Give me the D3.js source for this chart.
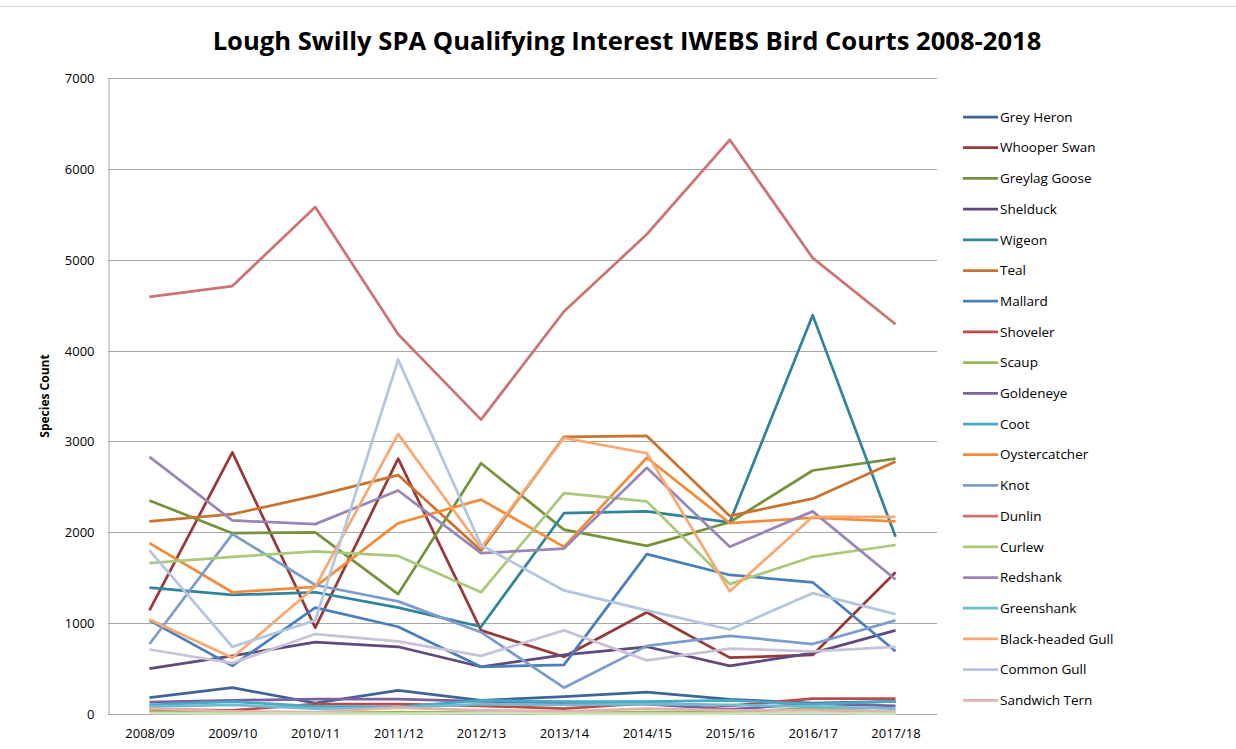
<!DOCTYPE html>
<html>
<head>
<meta charset="utf-8">
<script src="https://cdn.jsdelivr.net/npm/d3@7"></script>
<style>
  body { margin: 0; background: #fff; }
  text { font-family: "Open Sans", "Liberation Sans", sans-serif; fill: #000; }
</style>
</head>
<body>
<div class="chart"></div>
<script>
var seasons = ["2008/09", "2009/10", "2010/11", "2011/12", "2012/13", "2013/14", "2014/15", "2015/16", "2016/17", "2017/18"];
var yTicks = [0, 1000, 2000, 3000, 4000, 5000, 6000, 7000];

var greyHeron = [180, 290, 120, 260, 150, 190, 240, 160, 120, 140];
var whooperSwan = [1140, 2880, 950, 2810, 920, 630, 1120, 620, 650, 1560];
var greylagGoose = [2350, 1990, 2000, 1320, 2760, 2030, 1850, 2110, 2680, 2810];
var shelduck = [500, 640, 790, 740, 520, 650, 740, 530, 670, 920];
var wigeon = [1390, 1310, 1340, 1170, 960, 2210, 2230, 2110, 4390, 1950];
var teal = [2120, 2200, 2400, 2630, 1800, 3050, 3060, 2180, 2370, 2780];
var mallard = [1030, 530, 1170, 960, 520, 540, 1760, 1530, 1450, 690];
var shoveler = [50, 40, 110, 110, 90, 60, 120, 90, 170, 170];
var scaup = [20, 15, 10, 20, 15, 10, 20, 20, 65, 15];
var goldeneye = [130, 150, 165, 165, 140, 120, 110, 50, 115, 90];
var coot = [100, 135, 85, 75, 150, 135, 135, 150, 110, 140];
var oystercatcher = [1880, 1340, 1400, 2100, 2360, 1840, 2820, 2100, 2160, 2120];
var knot = [770, 1980, 1420, 1240, 900, 290, 750, 860, 770, 1030];
var dunlin = [4590, 4710, 5580, 4180, 3240, 4430, 5280, 6320, 5020, 4290];
var curlew = [1660, 1730, 1790, 1740, 1340, 2430, 2340, 1430, 1730, 1860];
var redshank = [2830, 2130, 2090, 2460, 1770, 1820, 2710, 1840, 2230, 1480];
var greenshank = [80, 100, 60, 70, 110, 100, 110, 100, 80, 60];
var blackHeadedGull = [1040, 620, 1400, 3080, 1830, 3040, 2870, 1350, 2170, 2170];
var commonGull = [1800, 740, 1030, 3900, 1860, 1360, 1140, 930, 1330, 1100];
var sandwichTern = [60, 30, 20, 70, 40, 30, 60, 40, 40, 30];
// two more series are plotted but the legend runs out of room for them
var commonTern = [10, 5, 5, 5, 10, 5, 5, 5, 10, 5];
var whiteFrontedGoose = [710, 560, 880, 800, 640, 920, 590, 720, 690, 740];

var series = [
  {name: "Grey Heron", values: greyHeron, color: "#3d6696"},
  {name: "Whooper Swan", values: whooperSwan, color: "#963a38"},
  {name: "Greylag Goose", values: greylagGoose, color: "#76933c"},
  {name: "Shelduck", values: shelduck, color: "#5f4a7b"},
  {name: "Wigeon", values: wigeon, color: "#31849b"},
  {name: "Teal", values: teal, color: "#c8732f"},
  {name: "Mallard", values: mallard, color: "#4a7ebb"},
  {name: "Shoveler", values: shoveler, color: "#be4b48"},
  {name: "Scaup", values: scaup, color: "#98b954"},
  {name: "Goldeneye", values: goldeneye, color: "#7d60a0"},
  {name: "Coot", values: coot, color: "#46aac5"},
  {name: "Oystercatcher", values: oystercatcher, color: "#f38b38"},
  {name: "Knot", values: knot, color: "#7c9dcc"},
  {name: "Dunlin", values: dunlin, color: "#cc7472"},
  {name: "Curlew", values: curlew, color: "#a9c97c"},
  {name: "Redshank", values: redshank, color: "#9a86b6"},
  {name: "Greenshank", values: greenshank, color: "#6dbcd2"},
  {name: "Black-headed Gull", values: blackHeadedGull, color: "#f9a872"},
  {name: "Common Gull", values: commonGull, color: "#b3c5df"},
  {name: "Sandwich Tern", values: sandwichTern, color: "#e0b2b0"},
  {name: "Common Tern", values: commonTern, color: "#cfdfb8"},
  {name: "Greenland White-fronted Goose", values: whiteFrontedGoose, color: "#cbc2da"}
];
var legendCount = 20;

var width = 1236,
  height = 749;
var plot = {left: 108, right: 937, top: 78, bottom: 714};

var svg = d3.select(".chart").append("svg")
  .attr("width", width)
  .attr("height", height);

svg.append("line")
  .attr("x1", 0).attr("x2", width)
  .attr("y1", 6.5).attr("y2", 6.5)
  .attr("stroke", "#c9d3d6");

svg.append("text")
  .attr("x", 627)
  .attr("y", 50)
  .attr("text-anchor", "middle")
  .style("font-size", "25.6px")
  .style("font-weight", "bold")
  .text("Lough Swilly SPA Qualifying Interest IWEBS Bird Courts 2008-2018");

var x = d3.scalePoint()
  .domain(seasons)
  .range([plot.left, plot.right])
  .padding(0.5);

var y = d3.scaleLinear()
  .domain([0, 7000])
  .range([plot.bottom, plot.top]);

// gridlines
svg.append("g")
  .selectAll("line")
  .data(yTicks.slice(1))
  .enter().append("line")
  .attr("x1", plot.left)
  .attr("x2", plot.right)
  .attr("y1", function(d) { return Math.round(y(d)) + 0.5; })
  .attr("y2", function(d) { return Math.round(y(d)) + 0.5; })
  .attr("stroke", "#a6a6a6")
  .attr("stroke-width", 1);

var yAxis = svg.append("g")
  .attr("transform", "translate(" + (plot.left + 0.5) + ",0)")
  .call(d3.axisLeft(y).tickValues(yTicks).tickSize(0).tickPadding(14).tickFormat(d3.format("d")));
yAxis.select(".domain").attr("stroke", "#a6a6a6");
yAxis.selectAll("text").style("font-size", "13px").attr("dy", "0.35em");

var xAxis = svg.append("g")
  .attr("transform", "translate(0," + (plot.bottom + 0.5) + ")")
  .call(d3.axisBottom(x).tickSize(0).tickPadding(14));
xAxis.select(".domain").attr("stroke", "#a6a6a6").attr("d", "M" + plot.left + ",0H" + plot.right);
xAxis.selectAll("text").style("font-size", "13px");

svg.append("text")
  .attr("transform", "translate(49,396) rotate(-90)")
  .attr("text-anchor", "middle")
  .style("font-size", "12px")
  .style("font-weight", "bold")
  .text("Species Count");

var line = d3.line()
  .x(function(d, i) { return x(seasons[i]); })
  .y(function(d) { return y(d); });

svg.append("g")
  .selectAll("path")
  .data(series)
  .enter().append("path")
  .attr("fill", "none")
  .attr("stroke", function(d) { return d.color; })
  .attr("stroke-width", 2.75)
  .attr("stroke-linejoin", "round")
  .attr("d", function(d) { return line(d.values); });

// legend
var legend = svg.append("g").attr("class", "legend");
series.slice(0, legendCount).forEach(function(d, i) {
  var ly = 117 + i * 30.7;
  legend.append("line")
    .attr("x1", 963).attr("x2", 998)
    .attr("y1", ly).attr("y2", ly)
    .attr("stroke", d.color)
    .attr("stroke-width", 2.75);
  legend.append("text")
    .attr("x", 1000)
    .attr("y", ly)
    .attr("dy", "0.35em")
    .style("font-size", "13.5px")
    .text(d.name);
});
</script>
</body>
</html>
